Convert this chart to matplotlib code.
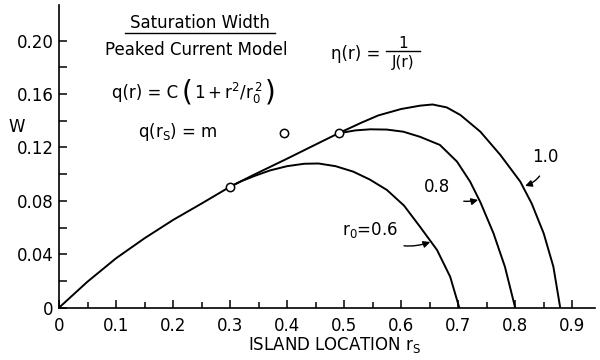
#!/usr/bin/env python
import numpy as np
import matplotlib
matplotlib.use("Agg")
import matplotlib.pyplot as plt
from matplotlib.lines import Line2D

plt.rcParams['font.family'] = ['DejaVu Sans']
plt.rcParams['mathtext.default'] = 'regular'

# saturated island width W against island location r_s, one curve per r0
rs_10 = [0.0, 0.05, 0.10, 0.15, 0.20, 0.25, 0.30, 0.34, 0.40, 0.46, 0.49, 0.53,
         0.56, 0.60, 0.633, 0.655, 0.68, 0.704, 0.739, 0.774, 0.809, 0.829,
         0.85, 0.867, 0.879]
w_10 = [0.0, 0.0195, 0.037, 0.052, 0.0657, 0.078, 0.0906, 0.0992, 0.1116, 0.1243,
        0.1306, 0.1385, 0.1440, 0.1488, 0.1513, 0.1522, 0.150, 0.1443, 0.1318,
        0.1144, 0.0944, 0.0780, 0.0557, 0.0307, 0.0]

rs_08 = [0.49, 0.52, 0.546, 0.575, 0.604, 0.633, 0.668, 0.698, 0.721, 0.739,
         0.762, 0.782, 0.80]
w_08 = [0.1306, 0.1328, 0.1336, 0.1334, 0.1318, 0.128, 0.1219, 0.1094, 0.0944,
        0.0790, 0.0557, 0.0307, 0.0]

rs_06 = [0.30, 0.32, 0.345, 0.37, 0.40, 0.43, 0.455, 0.485, 0.516, 0.545, 0.575,
         0.605, 0.633, 0.663, 0.686, 0.702]
w_06 = [0.0906, 0.0948, 0.0990, 0.1028, 0.1060, 0.1078, 0.1080, 0.1060, 0.1019,
        0.096, 0.0882, 0.0765, 0.0607, 0.0432, 0.0232, 0.0]

# open circles
pts_x = [0.30, 0.394, 0.491]
pts_y = [0.0906, 0.1306, 0.1306]

xticks = [0, 0.1, 0.2, 0.3, 0.4, 0.5, 0.6, 0.7, 0.8, 0.9]
xticklabels = ['0', '0.1', '0.2', '0.3', '0.4', '0.5', '0.6', '0.7', '0.8', '0.9']
yticks = [0, 0.04, 0.08, 0.12, 0.16, 0.20]
yticklabels = ['0', '0.04', '0.08', '0.12', '0.16', '0.20']

W, H = 600, 360
fig = plt.figure(figsize=(6, 3.6), dpi=100)
ax = fig.add_axes([59 / W, 1 - 307.7 / H, (595 - 59) / W, (307.7 - 5) / H])

lw = 1.4
ax.plot(rs_10, w_10, color='black', lw=lw)
ax.plot(rs_08, w_08, color='black', lw=lw)
ax.plot(rs_06, w_06, color='black', lw=lw)
ax.plot(pts_x, pts_y, 'o', ms=6, mfc='white', mec='black', mew=1.1, zorder=5)

ax.set_xlim(0, 0.94)
ax.set_ylim(0, 0.2267)
for s in ['top', 'right']:
    ax.spines[s].set_visible(False)
for s in ['left', 'bottom']:
    ax.spines[s].set_linewidth(1.2)

ax.set_xticks(xticks)
ax.set_xticklabels(xticklabels)
ax.set_xticks(np.arange(0.05, 0.9, 0.1), minor=True)
ax.set_yticks(yticks)
ax.set_yticklabels(yticklabels)
ax.set_yticks(np.arange(0.02, 0.19, 0.04), minor=True)
ax.tick_params(axis='x', which='major', direction='in', length=6, width=1.1,
               labelsize=12, pad=7)
ax.tick_params(axis='x', which='minor', direction='in', length=4.5, width=1.1)
ax.tick_params(axis='y', which='both', direction='in', length=6, width=1.1,
               labelsize=12, pad=4)

fs = 12
ax.text(0.3316, -0.028, 'ISLAND LOCATION $r_S$', fontsize=fs, ha='left',
        va='center', transform=ax.transData, clip_on=False)
fig.text(17 / W, 1 - 127 / H, 'W', fontsize=fs, ha='center', va='center')

# heading block
fig.text(200 / W, 1 - 23 / H, 'Saturation Width', fontsize=fs, ha='center',
         va='center')
fig.add_artist(Line2D([125 / W, 275 / W], [1 - 33 / H, 1 - 33 / H],
                      color='black', lw=1.0))
fig.text(196 / W, 1 - 50 / H, 'Peaked Current Model', fontsize=fs,
         ha='center', va='center')

# q(r) = C(1 + r^2/r0^2) with tall brackets, laid out piece by piece
renderer = fig.canvas.get_renderer()
x0 = 112
pieces = [('q(r) = C', fs, 3), ('(', fs + 8, 2),
          ('$1 + r^2/r_0^{\\,2}$', fs, 2), (')', fs + 8, 0)]
for txt, size, gap in pieces:
    t = fig.text(x0 / W, 1 - 93 / H, txt, fontsize=size, ha='left',
                 va='center')
    x0 = t.get_window_extent(renderer).x1 + gap

fig.text(178 / W, 1 - 132 / H, 'q($r_S$) = m', fontsize=fs, ha='center',
         va='center')

# eta(r) = 1 / J(r)
fig.text(380 / W, 1 - 54 / H, 'η(r) =', fontsize=fs, ha='right',
         va='center')
fig.text(403 / W, 1 - 43 / H, '1', fontsize=fs - 1, ha='center', va='center')
fig.add_artist(Line2D([386 / W, 420 / W], [1 - 51 / H, 1 - 51 / H],
                      color='black', lw=1.0))
fig.text(403 / W, 1 - 63 / H, 'J(r)', fontsize=fs - 1, ha='center',
         va='center')

# curve labels with arrows
arrow = dict(arrowstyle='-|>', color='black', lw=1.0, mutation_scale=10)
ax.annotate('1.0', xy=(0.8175, 0.0912), xytext=(0.853, 0.1129), fontsize=fs,
            ha='center', va='center',
            arrowprops=dict(arrow, connectionstyle='arc3,rad=-0.35',
                            shrinkA=6, shrinkB=0))
ax.annotate('0.8', xy=(0.735, 0.0807), xytext=(0.663, 0.0904), fontsize=fs,
            ha='center', va='center',
            arrowprops=dict(arrow, connectionstyle='arc3,rad=0.3',
                            shrinkA=8, shrinkB=0))
ax.annotate('$r_0$=0.6', xy=(0.651, 0.0492), xytext=(0.5456, 0.0582),
            fontsize=fs, ha='center', va='center',
            arrowprops=dict(arrow, connectionstyle='arc3,rad=0.3',
                            shrinkA=10, shrinkB=0))

fig.savefig('out.png', dpi=100)
